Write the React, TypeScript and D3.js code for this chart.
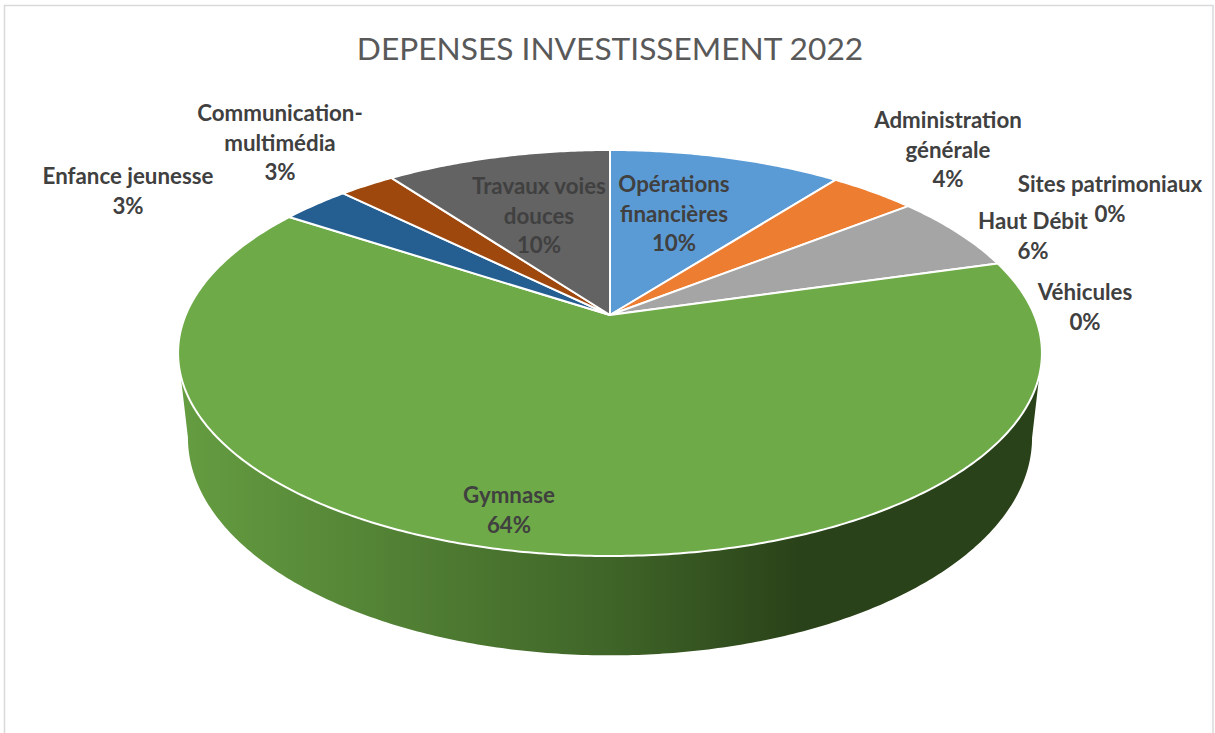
// 3D pie chart: D3 pie layout projected through a small perspective transform
import * as d3 from 'd3'

const title = 'DEPENSES INVESTISSEMENT 2022'

const categories = [
  'Opérations financières',
  'Administration générale',
  'Sites patrimoniaux',
  'Haut Débit',
  'Véhicules',
  'Gymnase',
  'Enfance jeunesse',
  'Communication-multimédia',
  'Travaux voies douces',
]
const values = [10.45, 3.9, 0, 6.2, 0, 63.75, 3.1, 2.5, 10.1]
const percentLabels = ['10%', '4%', '0%', '6%', '0%', '64%', '3%', '3%', '10%']
const labelLines = [
  ['Opérations', 'financières'],
  ['Administration', 'générale'],
  ['Sites patrimoniaux'],
  ['Haut Débit'],
  ['Véhicules'],
  ['Gymnase'],
  ['Enfance jeunesse'],
  ['Communication-', 'multimédia'],
  ['Travaux voies', 'douces'],
]
const colors = ['#5b9bd5', '#ed7d31', '#ffc000', '#a5a5a5', '#4472c4', '#6eaa47', '#255e91', '#9e480e', '#636363']

// layout only: centre x and first baseline of each data label
const labelX = [674, 948, 1110, 1033, 1085, 509, 128, 280, 539]
const labelY = [192, 128, 192, 229, 300, 503, 184, 121, 194]
const lineHeight = 29.5

const width = 1215
const height = 733
const cx = 610

// perspective of the discs: k is the tilt, A/B the horizontal and vertical reach
const k = 0.1872
const topDisc = { A: 424.3, B: 195.9, y0: 315 }
const lowDisc = { A: 414.6, B: 210, y0: 397 }

type Disc = typeof topDisc

function project(disc: Disc, angle: number, r = 1): [number, number] {
  const u = r * Math.sin(angle)
  const v = r * Math.cos(angle)
  const w = 1 + k * v
  return [cx + (disc.A * u) / w, disc.y0 - (disc.B * v) / w]
}

function rim(disc: Disc, a0: number, a1: number): [number, number][] {
  const steps = Math.max(2, Math.ceil(Math.abs(a1 - a0) / 0.01))
  return d3.range(steps + 1).map(i => project(disc, a0 + ((a1 - a0) * i) / steps))
}

const line = d3.line()

export default function App() {
  const slices = d3.pie<number>().sort(null).value(d => d)(values)

  // the wall runs between the two widest points of the discs, through the front
  const wallStart = Math.acos(-k)
  const wallEnd = 2 * Math.PI - wallStart
  const wall = [...rim(topDisc, wallStart, wallEnd), ...rim(lowDisc, wallEnd, wallStart)]

  return (
    <svg width={width} height={height} style={{ position: 'absolute', left: 0, top: 0, background: '#fff' }}>
      <defs>
        <linearGradient id="wall-gradient" gradientUnits="userSpaceOnUse" x1={178} x2={1041} y1={0} y2={0}>
          <stop offset="0%" stopColor="#659d41" />
          <stop offset="50%" stopColor="#3f6528" />
          <stop offset="72%" stopColor="#2a4219" />
          <stop offset="100%" stopColor="#2a4219" />
        </linearGradient>
      </defs>

      <path d={`M4.5,${height + 5}V5.5H1213V${height + 5}`} fill="none" stroke="#d9d9d9" strokeWidth={1.5} />

      <text x={610} y={60} textAnchor="middle" fontFamily="Lato" fontSize={31.7} fill="#595959">
        {title}
      </text>

      <path d={line(wall) + 'Z'} fill="url(#wall-gradient)" />

      {slices.map((s, i) =>
        s.value > 0 ? (
          <path
            key={categories[i]}
            d={line([[cx, topDisc.y0], ...rim(topDisc, s.startAngle, s.endAngle)]) + 'Z'}
            fill={colors[i]}
            stroke="#fff"
            strokeWidth={2}
            strokeLinejoin="round"
          />
        ) : null
      )}

      {categories.map((name, i) => (
        <text
          key={name}
          textAnchor="middle"
          fontFamily="Lato"
          fontWeight="bold"
          fontSize={22.3}
          fill="#404040"
        >
          {[...labelLines[i], percentLabels[i]].map((t, j) => (
            <tspan key={j} x={labelX[i]} y={labelY[i] + j * lineHeight}>
              {t}
            </tspan>
          ))}
        </text>
      ))}
    </svg>
  )
}
